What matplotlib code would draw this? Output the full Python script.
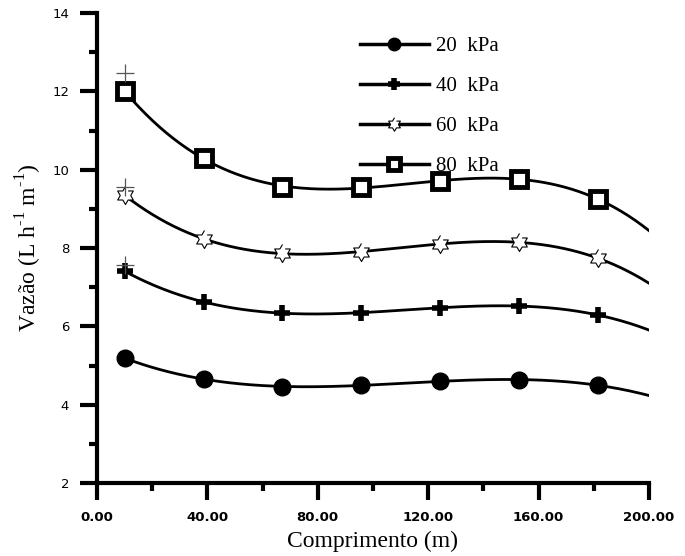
import numpy as np
import matplotlib
matplotlib.use("Agg")
import matplotlib.pyplot as plt
from matplotlib.ticker import MultipleLocator, FormatStrFormatter

# distance along the lateral line (m)
comprimento = [10.0, 38.6, 67.1, 95.7, 124.3, 152.9, 181.4]

# flow rate per pressure (L h-1 m-1)
vazao_20 = [5.19, 4.65, 4.46, 4.50, 4.60, 4.63, 4.50]
vazao_40 = [7.41, 6.62, 6.34, 6.35, 6.47, 6.52, 6.29]
vazao_60 = [9.35, 8.23, 7.87, 7.90, 8.10, 8.15, 7.74]
vazao_80 = [12.00, 10.30, 9.56, 9.55, 9.71, 9.76, 9.25]

# stray crosses drawn at the first position
cruz_x = [10.0, 10.0, 10.0]
cruz_y = [12.47, 9.56, 7.57]

labels = ["20  kPa", "40  kPa", "60  kPa", "80  kPa"]
series = [vazao_20, vazao_40, vazao_60, vazao_80]

serif = "Liberation Serif"
plt.rcParams["mathtext.fontset"] = "custom"
plt.rcParams["mathtext.rm"] = serif

hexagram = [(np.cos(np.pi / 2 + k * np.pi / 6) * (1.0 if k % 2 == 0 else 0.58),
             np.sin(np.pi / 2 + k * np.pi / 6) * (1.0 if k % 2 == 0 else 0.58))
            for k in range(12)]

styles = [
    dict(marker="o", markersize=12, markerfacecolor="black", markeredgecolor="black"),
    dict(marker="+", markersize=12, markeredgewidth=4, markeredgecolor="black"),
    dict(marker=hexagram, markersize=13, markerfacecolor="white",
         markeredgecolor="black", markeredgewidth=0.8),
    dict(marker="s", markersize=11.5, markerfacecolor="white",
         markeredgecolor="black", markeredgewidth=3.5),
]

fig = plt.figure(figsize=(6.85, 5.56), dpi=100)
ax = fig.add_axes([0.1416, 0.1313, 0.9474 - 0.1416, 0.9766 - 0.1313])

x_fit = np.linspace(10, 200, 300)
for ys, lab, st in zip(series, labels, styles):
    coef = np.polyfit(comprimento, ys, 3)
    ax.plot(x_fit, np.polyval(coef, x_fit), color="black", linewidth=2.0, zorder=2)
    ax.plot(comprimento, ys, linestyle="none", zorder=3, **st)
    # legend proxy
    ax.plot([], [], color="black", linewidth=2.5, label=lab, **st)

ax.plot(cruz_x, cruz_y, linestyle="none", marker="+", markersize=13,
        markeredgewidth=0.9, color="#555555", zorder=4)

ax.set_xlim(0, 200)
ax.set_ylim(2, 14)
ax.xaxis.set_major_locator(MultipleLocator(40))
ax.xaxis.set_minor_locator(MultipleLocator(20))
ax.yaxis.set_major_locator(MultipleLocator(2))
ax.yaxis.set_minor_locator(MultipleLocator(1))
ax.xaxis.set_major_formatter(FormatStrFormatter("%.2f"))

for side in ("top", "right"):
    ax.spines[side].set_visible(False)
for side in ("left", "bottom"):
    ax.spines[side].set_linewidth(3)

ax.tick_params(which="major", direction="out", length=12, width=3, pad=8)
ax.tick_params(which="minor", direction="out", length=6, width=3)
ax.tick_params(axis="y", labelsize=9.5)
ax.tick_params(axis="x", labelsize=9.5)
for t in ax.get_xticklabels():
    t.set_fontweight("bold")

ax.set_xlabel("Comprimento (m)", family=serif, fontsize=17, labelpad=5)
ax.set_ylabel("Vazão (L h$^{\u20101}$ m$^{\u20101}$)",
              family=serif, fontsize=17, labelpad=6)

ax.legend(loc="upper left", bbox_to_anchor=(0.465, 0.963), frameon=False,
          borderaxespad=0, borderpad=0.3,
          prop={"family": serif, "size": 15}, handlelength=3.3,
          labelspacing=0.98, handletextpad=0.35, markerscale=0.75)

fig.savefig("out.png", dpi=100)
